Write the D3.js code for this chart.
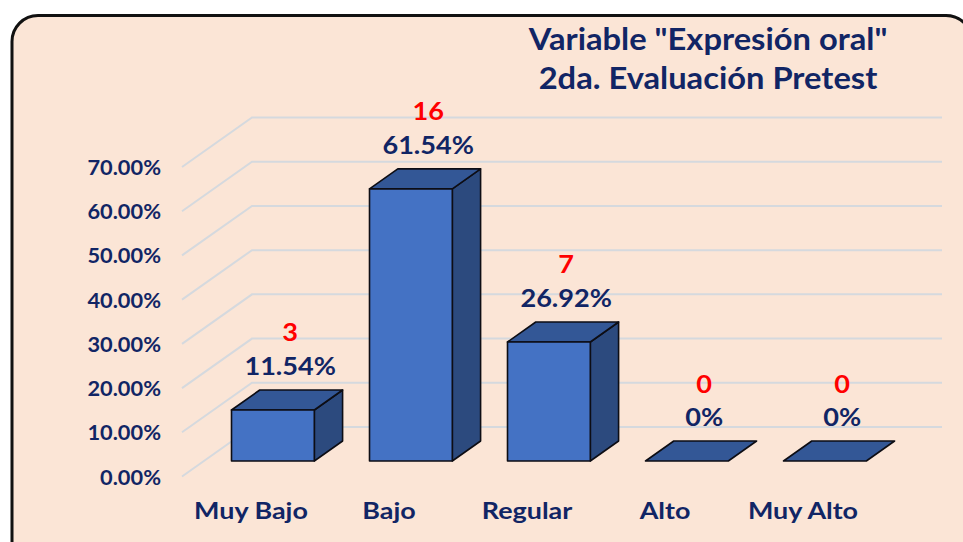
<!DOCTYPE html>
<html><head><meta charset="utf-8">
<script src="https://cdn.jsdelivr.net/npm/d3@7"></script>
<style>html,body{margin:0;padding:0;background:#fff;}svg{display:block;}</style>
</head><body>
<svg id="chart" width="963" height="542"></svg>
<script>
const categories = ["Muy Bajo", "Bajo", "Regular", "Alto", "Muy Alto"];
const counts = [3, 16, 7, 0, 0];
const percents = [11.54, 61.54, 26.92, 0, 0];
const yTicks = [0, 10, 20, 30, 40, 50, 60, 70];
const titleLines = ['Variable "Expresión oral"', '2da. Evaluación Pretest'];

const FONT = "Lato, 'Open Sans', sans-serif";
const navy = "#112565";
const svg = d3.select("#chart");

// text helper: places text at (x,y) with a horizontal stretch
function label(g, tx, ty, str, size, color, anchor, sx) {
  return g.append("text")
    .attr("transform", `translate(${tx},${ty}) scale(${sx},1)`)
    .attr("text-anchor", anchor).attr("font-family", FONT).attr("font-weight", 700)
    .attr("font-size", size).attr("fill", color).text(str);
}

// frame
svg.append("rect").attr("x", 12).attr("y", 15.5).attr("width", 960).attr("height", 560)
  .attr("rx", 26).attr("ry", 26).attr("fill", "#FBE5D6").attr("stroke", "#111").attr("stroke-width", 3);

// 3D projection
const depthX = 70, depthY = -49.5;
const x = d3.scaleBand().domain(categories).range([182, 872]).paddingInner(0.4).paddingOuter(0.2);
const y = d3.scaleLinear().domain([0, 70]).range([476.5, 167]);
const z = d3.scaleLinear().domain([0, 1]).range([0, 1]);
const P = (px, val, zz) => [px + depthX * z(zz), y(val) + depthY * z(zz)];
const z0 = 0.313, z1 = 0.717, zLabel = 0.56;

// gridlines
const gl = svg.append("g");
yTicks.forEach(t => {
  const a = P(182, t, 0), b = P(182, t, 1), c = P(872, t, 1);
  gl.append("path").attr("d", d3.line()([a, b, c]))
    .attr("fill", "none").attr("stroke", "#D5D9DE").attr("stroke-width", 2);
});

// y axis labels
const ya = svg.append("g");
yTicks.forEach(t => label(ya, 161, y(t) + 8, d3.format(".2%")(t / 100), 20, navy, "end", 1.09));

// bars
const bars = svg.append("g");
const labs = svg.append("g");
categories.forEach((c, i) => {
  const v = percents[i];
  const xl = x(c), xr = x(c) + x.bandwidth();
  const line = d3.line();
  const side = [P(xr, 0, z0), P(xr, 0, z1), P(xr, v, z1), P(xr, v, z0)];
  const top = [P(xl, v, z0), P(xr, v, z0), P(xr, v, z1), P(xl, v, z1)];
  const front = [P(xl, 0, z0), P(xr, 0, z0), P(xr, v, z0), P(xl, v, z0)];
  const sc = "#0d0d14", sw = 1.6;
  if (v > 0) {
    bars.append("path").attr("d", line(side) + "Z").attr("fill", "#2C4A7E").attr("stroke", sc).attr("stroke-width", sw).attr("stroke-linejoin", "round");
  }
  bars.append("path").attr("d", line(top) + "Z").attr("fill", "#335796").attr("stroke", sc).attr("stroke-width", sw).attr("stroke-linejoin", "round");
  if (v > 0) {
    bars.append("path").attr("d", line(front) + "Z").attr("fill", "#4472C4").attr("stroke", sc).attr("stroke-width", sw).attr("stroke-linejoin", "round");
  }
  const lx = x(c) + x.bandwidth() / 2 + depthX * zLabel;
  const base = P(xl, v, z1)[1] - 15;
  label(labs, lx, base, v === 0 ? "0%" : v.toFixed(2) + "%", 24, navy, "middle", 1.13);
  label(labs, lx, base - 33.5, String(counts[i]), 24, "#FF0000", "middle", 1.13);
});

// category labels
const ca = svg.append("g");
categories.forEach(c => label(ca, x(c) + x.bandwidth() / 2, 519, c, 23, navy, "middle", 1.17));

// title
const tg = svg.append("g");
titleLines.forEach((t, i) => label(tg, 708, 50 + i * 39, t, 30, navy, "middle", 1.09));
</script>
</body></html>
